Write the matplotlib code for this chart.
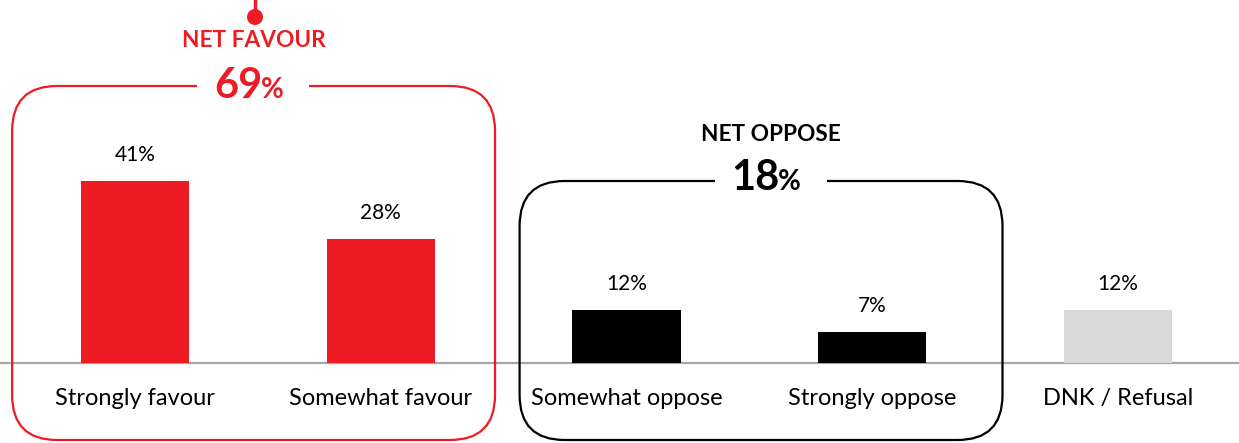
import matplotlib
matplotlib.use("Agg")
import matplotlib.pyplot as plt
from matplotlib.patches import FancyBboxPatch, Rectangle
from matplotlib.lines import Line2D

plt.rcParams['font.family'] = ['Lato', 'DejaVu Sans']

categories = ["Strongly favour", "Somewhat favour", "Somewhat oppose", "Strongly oppose", "DNK / Refusal"]
values = [41, 28, 12, 7, 12]
value_labels = ["41%", "28%", "12%", "7%", "12%"]
colors = ["#ED1C24", "#ED1C24", "#000000", "#000000", "#D9D9D9"]
net_favour = 69
net_oppose = 18

W, H = 1239, 443
fig = plt.figure(figsize=(W / 100, H / 100), dpi=100)
base_px = 80  # baseline from bottom
ax = fig.add_axes([0, base_px / H, 1, 1 - base_px / H])
px_x = 245.75
px_y = 4.43
ax.set_xlim(-135 / px_x, (W - 135) / px_x)
ax.set_ylim(0, 363 / px_y)
ax.axis('off')

x = list(range(len(categories)))
ax.bar(x, values, width=0.44, color=colors, zorder=2)

# baseline
ax.axhline(0, color="#A6A6A6", lw=1.6, zorder=1, clip_on=False)

for xi, v, lab in zip(x, values, value_labels):
    ax.text(xi, v + 5.9, lab, ha='center', va='center', fontsize=15, color='black')
for xi, c in zip(x, categories):
    ax.text(xi, -42 / px_y, c, ha='center', va='baseline', fontsize=17, color='black')

r = 45 / px_x
aspect = px_x / px_y

def rbox(x0, x1, y0, y1, color):
    p = FancyBboxPatch((x0, y0), x1 - x0, y1 - y0,
                       boxstyle=f"round,pad=0,rounding_size={r}",
                       mutation_aspect=aspect, fill=False, edgecolor=color,
                       lw=1.6, clip_on=False, zorder=3)
    ax.add_patch(p)

def px2x(p):
    return (p - 135) / px_x

def py2y(p):
    return (363 - p) / px_y

y_bot = py2y(440)
red = "#ED1C24"
rbox(-0.5, 1.465, y_bot, py2y(86), red)
rbox(1.565, 3.53, y_bot, py2y(181), "#000000")

# white gaps in box tops
ax.add_patch(Rectangle((px2x(197), py2y(92)), 112 / px_x, 12 / px_y, facecolor='white', edgecolor='none', zorder=3.5, clip_on=False))
ax.add_patch(Rectangle((px2x(715), py2y(187)), 112 / px_x, 12 / px_y, facecolor='white', edgecolor='none', zorder=3.5, clip_on=False))

# header texts
ax.text(px2x(254), py2y(40), "NET FAVOUR", ha='center', va='center', fontsize=16.3, fontweight='bold', color=red, zorder=4)
ax.text(px2x(263), py2y(98), f"{net_favour}", ha='right', va='baseline', fontsize=30, fontweight='bold', color=red, zorder=4)
ax.text(px2x(261), py2y(98), "%", ha='left', va='baseline', fontsize=20, fontweight='bold', color=red, zorder=4)

ax.text(px2x(771), py2y(134.5), "NET OPPOSE", ha='center', va='center', fontsize=16.3, fontweight='bold', color='black', zorder=4)
ax.text(px2x(780), py2y(190), f"{net_oppose}", ha='right', va='baseline', fontsize=30, fontweight='bold', color='black', zorder=4)
ax.text(px2x(778), py2y(190), "%", ha='left', va='baseline', fontsize=20, fontweight='bold', color='black', zorder=4)

# pin
ax.add_line(Line2D([px2x(255), px2x(255)], [py2y(17), py2y(0)], color=red, lw=2.5, clip_on=False, zorder=4))
ax.add_patch(FancyBboxPatch((px2x(255), py2y(17)), 0, 0, boxstyle=f"circle,pad={8 / px_x}", mutation_aspect=aspect,
                            facecolor=red, edgecolor='none', clip_on=False, zorder=4))

fig.savefig("out.png", dpi=100)
